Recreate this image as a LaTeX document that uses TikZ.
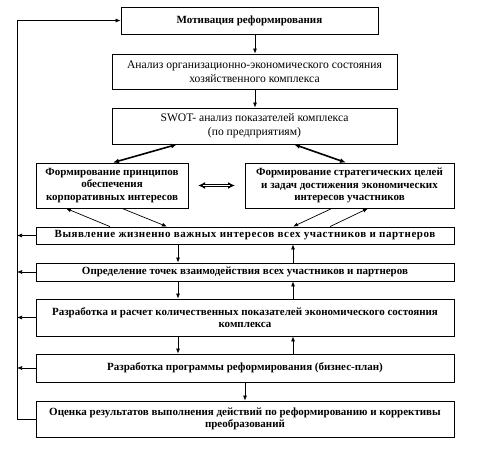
\documentclass[tikz,border=0pt]{standalone}
\usepackage{fontspec}
\setmainfont{Liberation Serif}
\usetikzlibrary{arrows.meta}
\begin{document}
\begin{tikzpicture}[x=1pt,y=-1pt,
  box/.style={draw, line width=0.8pt, inner sep=1pt, align=center, font=\fontsize{11.6}{14}\selectfont},
  bbox/.style={box, font=\fontsize{11}{12.6}\selectfont\bfseries},
  arr/.style={line width=0.7pt, -{Latex[length=5pt,width=4pt]}},
  tarr/.style={line width=1.6pt, {Latex[length=6pt,width=5pt]}-{Latex[length=6pt,width=5pt]}}]
\useasboundingbox (0,0) rectangle (488,449);
\node[bbox, minimum width=257pt, minimum height=27pt] (b1) at (249.5,20.5) {Мотивация реформирования};
\node[box, minimum width=285pt, minimum height=35pt] (b2) at (254.5,71.5) {Анализ организационно-экономического состояния\\хозяйственного комплекса};
\node[box, minimum width=285pt, minimum height=36pt] (b3) at (254.5,126) {SWOT- анализ показателей комплекса\\(по предприятиям)};
\node[bbox, minimum width=152pt, minimum height=45pt] (b4) at (112,185.5) {Формирование принципов\\обеспечения\\корпоративных интересов};
\node[bbox, minimum width=209pt, minimum height=45pt] (b5) at (349.5,185.5) {Формирование стратегических целей\\и задач достижения экономических\\интересов участников};
\node[bbox, minimum width=418pt, minimum height=17pt] (b6) at (245,235.5) {\addfontfeatures{LetterSpace=5}Выявление жизненно важных интересов всех участников и партнеров};
\node[bbox, minimum width=418pt, minimum height=18pt] (b7) at (245,272) {Определение точек взаимодействия всех участников и партнеров};
\node[bbox, minimum width=418pt, minimum height=37pt] (b8) at (245,317.5) {Разработка и расчет количественных показателей экономического состояния\\комплекса};
\node[bbox, minimum width=418pt, minimum height=28pt] (b9) at (245,368) {Разработка программы реформирования (бизнес-план)};
\node[bbox, minimum width=418pt, minimum height=36pt] (b10) at (245,419) {Оценка результатов выполнения действий по реформированию и коррективы\\преобразований};
% vertical chain
\draw[arr] (b1.south -| 255,0) -- (b2.north -| 255,0);
\draw[arr] (b2.south -| 255,0) -- (b3.north -| 255,0);
% thick arrows
\draw[tarr] (b3.south -| 177,0) -- (b4.north -| 113,0);
\draw[tarr] (b3.south -| 294,0) -- (b5.north -| 346,0);
\draw[line width=3.2pt, {Latex[length=7pt,width=7pt]}-{Latex[length=7pt,width=7pt]}] (b4.east -| 198,0) -- (b5.west -| 235,0);
\draw[white, line width=0.9pt, shorten <=5pt, shorten >=5pt] (b4.east -| 198,0) -- (b5.west -| 235,0);
% thin diagonal arrows
\draw[arr] (b6.north -| 110,0) -- (b4.south -| 66,0);
\draw[arr] (b4.south -| 122,0) -- (b6.north -| 167,0);
\draw[arr] (b5.south -| 332,0) -- (b6.north -| 293,0);
\draw[arr] (b6.north -| 330,0) -- (b5.south -| 368,0);
% down/up arrows
\draw[arr] (b6.south -| 178,0) -- (b7.north -| 178,0);
\draw[arr] (b7.north -| 293,0) -- (b6.south -| 293,0);
\draw[arr] (b7.south -| 178,0) -- (b8.north -| 178,0);
\draw[arr] (b8.north -| 293,0) -- (b7.south -| 293,0);
\draw[arr] (b8.south -| 178,0) -- (b9.north -| 178,0);
\draw[arr] (b9.north -| 293,0) -- (b8.south -| 293,0);
\draw[arr] (b9.south -| 245,0) -- (b10.north -| 245,0);
% feedback loop
\coordinate (lt) at (17,20.5);
\coordinate (lb) at (17,419);
\draw[line width=0.8pt] (b10.west) -- (lb) -- (lt);
\draw[arr] (lt) -- (b1.west);
\draw[arr] (b6.west) -- (b6.west -| lt);
\draw[arr] (b7.west) -- (b7.west -| lt);
\draw[arr] (b8.west) -- (b8.west -| lt);
\draw[arr] (b9.west) -- (b9.west -| lt);
\end{tikzpicture}
\end{document}
